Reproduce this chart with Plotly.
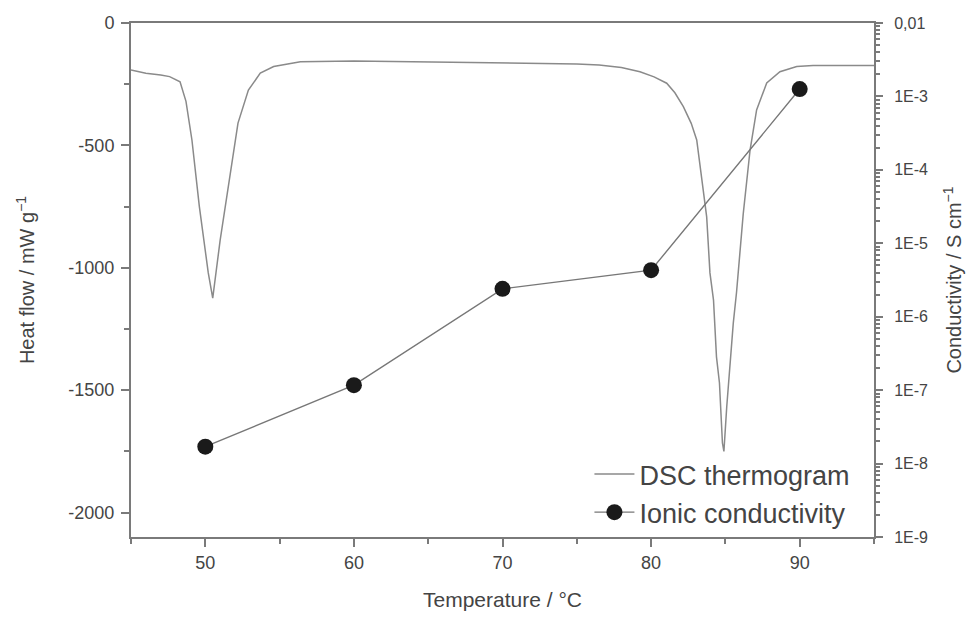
import plotly.graph_objects as go

# DSC thermogram
dsc_temp = [45, 46, 47, 47.6, 48.3, 48.7, 49.1, 49.6, 50.2, 50.5, 51.0, 51.66, 52.2, 52.9, 53.7,
            54.6, 56.4, 60, 65, 70, 75, 76.5, 78, 79.25, 80.2, 81.05, 81.6, 82.17, 82.7, 83.07,
            83.3, 83.5, 83.74, 83.96, 84.2, 84.4, 84.6, 84.8, 84.9, 85.09, 85.3, 85.53, 85.75,
            85.98, 86.2, 86.66, 87.1, 87.78, 88.67, 89.8, 90.9, 95]
dsc_heat = [-192, -205, -212, -219, -240, -320, -478, -750, -1021, -1124, -887, -613, -409, -274, -205,
            -178, -158, -155, -158, -162, -167, -172, -182, -199, -220, -246, -285, -342, -410, -478,
            -588, -682, -792, -1021, -1132, -1364, -1471, -1716, -1750, -1568, -1405, -1226, -1100,
            -920, -780, -519, -355, -245, -199, -178, -174, -174]

# Ionic conductivity
cond_temp = [50, 60, 70, 80, 90]
cond_vals = [1.7e-8, 1.17e-7, 2.4e-6, 4.3e-6, 1.26e-3]

left_tickvals = [0, -500, -1000, -1500, -2000]
left_ticktext = ["0", "-500", "-1000", "-1500", "-2000"]
right_tickvals = [1e-2, 1e-3, 1e-4, 1e-5, 1e-6, 1e-7, 1e-8, 1e-9]
right_ticktext = ["0,01", "1E-3", "1E-4", "1E-5", "1E-6", "1E-7", "1E-8", "1E-9"]

axis_col = "#7a7a7a"
text_col = "#444444"
font_fam = "Liberation Sans, Arial, sans-serif"

fig = go.Figure()
fig.add_trace(go.Scatter(
    x=dsc_temp, y=dsc_heat, mode="lines", name="DSC thermogram",
    line=dict(color="#8a8a8a", width=1.5), yaxis="y"))
fig.add_trace(go.Scatter(
    x=cond_temp, y=cond_vals, mode="lines+markers", name="Ionic conductivity",
    line=dict(color="#777777", width=1.4),
    marker=dict(color="#1a1a1a", size=16), yaxis="y2"))

# page body has an 8px margin, so the figure is sized/offset to compensate
fig.update_layout(
    width=958, height=603,
    margin=dict(l=123, r=92, t=15, b=74),
    paper_bgcolor="white", plot_bgcolor="white",
    font=dict(family=font_fam, color=text_col, size=17),
    showlegend=True,
    legend=dict(x=0.617, y=0.0, xanchor="left", yanchor="bottom",
                bgcolor="rgba(0,0,0,0)", font=dict(size=27, color=text_col),
                traceorder="grouped", tracegroupgap=11, itemwidth=40),
    xaxis=dict(range=[45, 95], dtick=10, tick0=50, showline=True, linecolor=axis_col,
               linewidth=2, mirror=True, ticks="outside", ticklen=8, tickwidth=1.5,
               tickcolor=axis_col, showgrid=False, zeroline=False, automargin=False,
               minor=dict(dtick=5, tick0=45, ticks="outside", ticklen=5, tickcolor=axis_col),
               tickfont=dict(size=18), ticklabelstandoff=0,
               title=dict(text="Temperature / °C", font=dict(size=21), standoff=25)),
    yaxis=dict(range=[-2100, 0], tickmode="array", tickvals=left_tickvals, ticktext=left_ticktext,
               showline=True, linecolor=axis_col, linewidth=2,
               ticks="outside", ticklen=8, tickwidth=1.5, tickcolor=axis_col,
               showgrid=False, zeroline=False, automargin=False,
               minor=dict(dtick=250, ticks="outside", ticklen=5, tickcolor=axis_col),
               tickfont=dict(size=18), ticklabelstandoff=3,
               title=dict(text="Heat flow / mW g<sup>−1</sup>", font=dict(size=20), standoff=28)),
    yaxis2=dict(type="log", range=[-9, -2], overlaying="y", side="right",
                tickmode="array", tickvals=right_tickvals, ticktext=right_ticktext,
                showline=True, linecolor=axis_col, linewidth=2,
                ticks="outside", ticklen=7, tickwidth=1.5, tickcolor=axis_col,
                showgrid=False, zeroline=False, automargin=False,
                minor=dict(dtick="D1", ticks="outside", ticklen=4, tickcolor=axis_col),
                tickfont=dict(size=16), ticklabelstandoff=8,
                title=dict(text="Conductivity / S cm<sup>−1</sup>", font=dict(size=20), standoff=20)),
)

fig.write_html("out.html")
